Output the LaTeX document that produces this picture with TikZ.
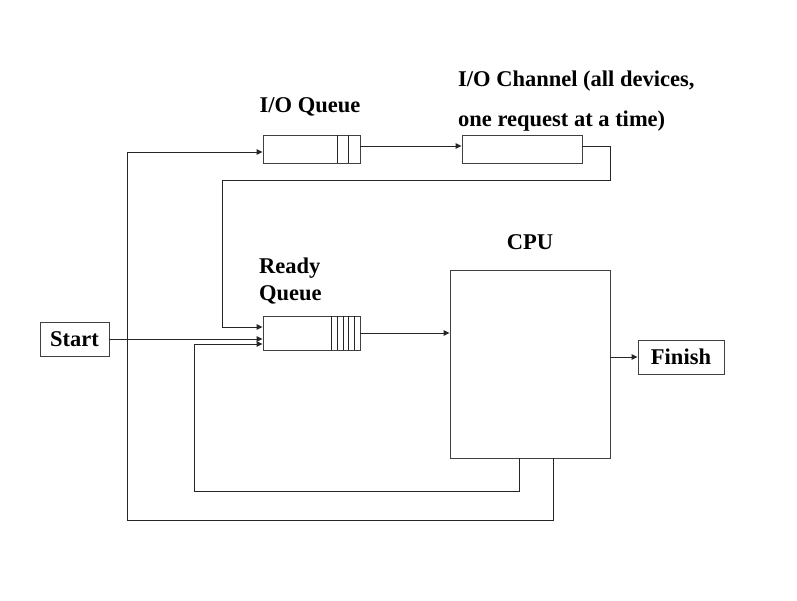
\documentclass[tikz,border=0pt]{standalone}
\usepackage{fontspec}
\setmainfont{Liberation Serif}
\usetikzlibrary{arrows.meta}
\begin{document}
\begin{tikzpicture}[x=1pt,y=-1pt,
  box/.style={draw=black!75,line width=0.9pt,rectangle,inner sep=0pt},
  lbl/.style={font=\fontsize{22.5}{26}\selectfont\bfseries,inner sep=0pt},
  conn/.style={line width=0.9pt,draw=black!85},
  arr/.style={conn,-{Triangle[length=6pt,width=5.5pt]}}]
\useasboundingbox[fill=white] (0,0) rectangle (797,601);
% boxes
\node[box,minimum width=97pt,minimum height=28pt] (ioq) at (311.5,149) {};
\node[box,minimum width=120pt,minimum height=28pt] (ioch) at (522,149) {};
\node[box,minimum width=97pt,minimum height=34pt] (rq) at (311.5,333) {};
\node[box,minimum width=160pt,minimum height=188pt] (cpu) at (530,364) {};
\node[box,lbl,minimum width=69pt,minimum height=34pt] (start) at (74.5,339) {Start};
\node[box,lbl,minimum width=86pt,minimum height=34pt] (finish) at (681,357) {Finish};
% queue slots
\foreach \d in {12,23}
  \draw[conn] ([xshift=-\d pt]ioq.north east) -- ([xshift=-\d pt]ioq.south east);
\foreach \k in {1,...,5}
  \draw[conn] ([xshift=-5.8*\k pt]rq.north east) -- ([xshift=-5.8*\k pt]rq.south east);
% labels
\node[lbl,anchor=base] (ioql) at (310,113) {I/O Queue};
\node[lbl,anchor=base west] (iochl1) at (458,87) {I/O Channel (all devices,};
\node[lbl,anchor=base west] (iochl2) at (458,127) {one request at a time)};
\node[lbl,anchor=base] (cpul) at (530,250) {CPU};
\node[lbl,anchor=base west] (rql1) at (259,274) {Ready};
\node[lbl,anchor=base west] (rql2) at (259,301) {Queue};
% coordinates
\coordinate (a1) at (127,520);
\coordinate (a2) at (553,520);
\coordinate (b1) at (194,491);
\coordinate (b2) at (519,491);
\coordinate (c1) at (610,180);
\coordinate (c2) at (222,180);
% connectors
\draw[arr] (start.east) -- (start.east -| rq.west);
\draw[arr] (rq.east) -- (rq.east -| cpu.west);
\draw[arr] (cpu.east |- finish.west) -- (finish.west);
\draw[arr] ([yshift=3pt]ioq.east) -- ([yshift=3pt]ioch.west);
\draw[arr] (cpu.south -| b2) -- (b2) -- (b1) -- (b1 |- 0,344) -- (rq.west |- 0,344);
\draw[arr] (cpu.south -| a2) -- (a2) -- (a1) -- (a1 |- 0,152) -- (ioq.west |- 0,152);
\draw[arr] ([yshift=3pt]ioch.east) -- ([yshift=3pt]ioch.east -| c1) -- (c1) -- (c2) -- (c2 |- 0,327) -- (rq.west |- 0,327);
\end{tikzpicture}
\end{document}
